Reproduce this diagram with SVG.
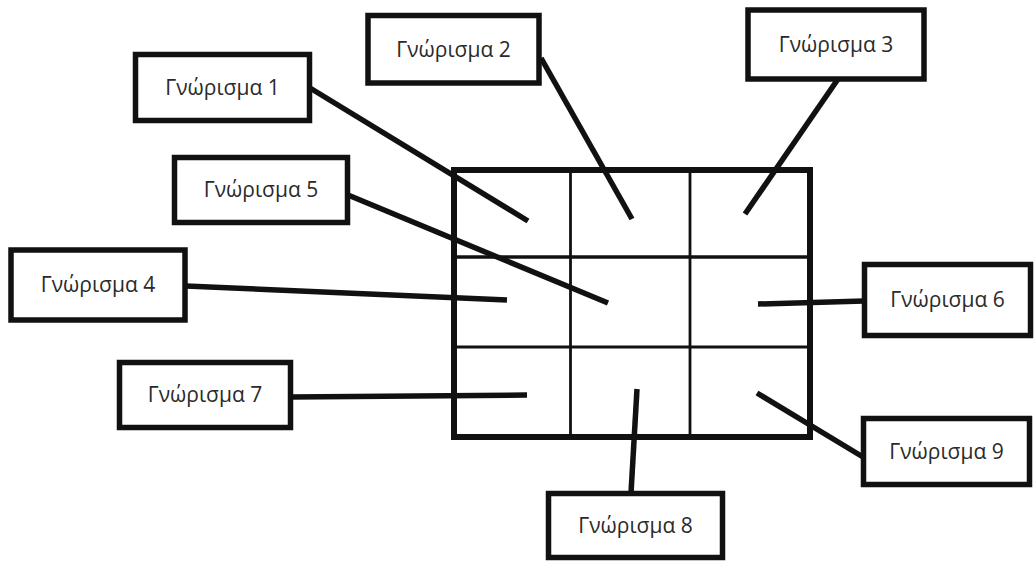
<svg xmlns="http://www.w3.org/2000/svg" width="1035" height="561" viewBox="0 0 1035 561">
<style>
.box{fill:#fff;stroke:#111;stroke-width:5.5}
.lbl{font-family:"Open Sans","Liberation Sans",sans-serif;font-size:21px;fill:#2a2a2a;text-anchor:middle}
.con{stroke:#111;stroke-width:5.5;stroke-linecap:butt;fill:none}
.outer{fill:none;stroke:#111;stroke-width:6}
.inner{stroke:#111;stroke-width:2.8}
</style>
<rect width="1035" height="561" fill="#fff"/>
<g id="grid">
<line class="inner" x1="570.5" y1="170" x2="570.5" y2="437"/>
<line class="inner" x1="690" y1="170" x2="690" y2="437"/>
<line class="inner" x1="454" y1="257" x2="810" y2="257" style="stroke-width:3.5"/>
<line class="inner" x1="454" y1="347" x2="810" y2="347"/>
<rect class="outer" x="454" y="170" width="356" height="267"/>
</g>
<g id="connectors">
<line class="con" x1="310" y1="88" x2="528" y2="221"/>
<line class="con" x1="541" y1="58" x2="632" y2="219"/>
<line class="con" x1="838" y1="79" x2="745" y2="214"/>
<line class="con" x1="186" y1="286" x2="507" y2="300"/>
<line class="con" x1="348" y1="195" x2="608" y2="303"/>
<line class="con" x1="758" y1="304" x2="864" y2="301"/>
<line class="con" x1="291" y1="397" x2="527" y2="395"/>
<line class="con" x1="637" y1="389" x2="631" y2="493"/>
<line class="con" x1="757" y1="393" x2="863" y2="457"/>
</g>
<g id="node1"><rect class="box" x="135.5" y="54.5" width="174" height="66"/><text class="lbl" x="222.5" y="95">Γνώρισμα 1</text></g>
<g id="node2"><rect class="box" x="368" y="15.5" width="171" height="67.5"/><text class="lbl" x="453.5" y="57">Γνώρισμα 2</text></g>
<g id="node3"><rect class="box" x="748" y="10" width="176" height="69"/><text class="lbl" x="836" y="52">Γνώρισμα 3</text></g>
<g id="node4"><rect class="box" x="11" y="250" width="174" height="70"/><text class="lbl" x="98" y="292">Γνώρισμα 4</text></g>
<g id="node5"><rect class="box" x="174.5" y="157.5" width="173" height="65"/><text class="lbl" x="261" y="197">Γνώρισμα 5</text></g>
<g id="node6"><rect class="box" x="864.5" y="264.5" width="166" height="71"/><text class="lbl" x="947.5" y="307">Γνώρισμα 6</text></g>
<g id="node7"><rect class="box" x="119.5" y="362.5" width="171" height="65"/><text class="lbl" x="205" y="402">Γνώρισμα 7</text></g>
<g id="node8"><rect class="box" x="548.5" y="493.5" width="174" height="64"/><text class="lbl" x="635.5" y="533">Γνώρισμα 8</text></g>
<g id="node9"><rect class="box" x="863.5" y="418.5" width="166" height="66"/><text class="lbl" x="946.5" y="459">Γνώρισμα 9</text></g>
</svg>
